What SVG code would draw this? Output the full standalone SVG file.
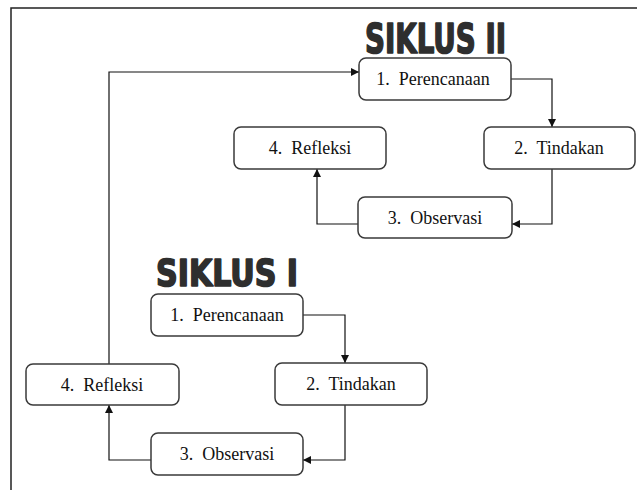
<svg xmlns="http://www.w3.org/2000/svg" width="637" height="490" viewBox="0 0 637 490">
<style>
.box{fill:#fff;stroke:#3a3a3a;stroke-width:1.5}
.lbl{font-size:18px;fill:#111;text-anchor:middle;white-space:pre}
.title{font-weight:900;fill:#2e2e2e;stroke:#2e2e2e;stroke-width:1.6;stroke-linejoin:round}
.con{fill:none;stroke:#111;stroke-width:1.2}
.frame{fill:none;stroke:#222;stroke-width:1.5}
</style>
<defs>
<marker id="ah" viewBox="0 0 10 10" refX="10" refY="5" markerWidth="8" markerHeight="8" markerUnits="userSpaceOnUse" orient="auto">
<path d="M0,0 L10,5 L0,10 z" fill="#111"/>
</marker>
</defs>
<rect width="637" height="490" fill="#fff"/>
<path class="frame" d="M11,490 L11,8 L637,8"/>
<g font-family="Liberation Sans Narrow, DejaVu Sans Condensed, Liberation Sans, sans-serif">
<text class="title" x="365" y="53" font-size="41" textLength="141" lengthAdjust="spacingAndGlyphs">SIKLUS II</text>
<text class="title" x="156" y="286" font-size="37" textLength="142" lengthAdjust="spacingAndGlyphs">SIKLUS I</text>
</g>
<g id="connectors">
<path class="con" d="M511,79 L552,79 L552,127" marker-end="url(#ah)"/>
<path class="con" d="M552,169 L552,224 L512,224" marker-end="url(#ah)"/>
<path class="con" d="M358,224 L317,224 L317,169" marker-end="url(#ah)"/>
<path class="con" d="M303,315 L345,315 L345,363" marker-end="url(#ah)"/>
<path class="con" d="M345,405 L345,460 L303,460" marker-end="url(#ah)"/>
<path class="con" d="M151,460 L109,460 L109,405" marker-end="url(#ah)"/>
<path class="con" d="M109,364 L109,72 L359,72" marker-end="url(#ah)"/>
</g>
<g id="nodes" font-family="Liberation Serif">
<g id="s2-perencanaan"><rect class="box" x="359" y="58" width="152" height="42" rx="7"/><text class="lbl" x="433" y="85">1.  Perencanaan</text></g>
<g id="s2-tindakan"><rect class="box" x="484" y="127" width="151" height="42" rx="7"/><text class="lbl" x="559" y="154">2.  Tindakan</text></g>
<g id="s2-refleksi"><rect class="box" x="234" y="127" width="152" height="42" rx="7"/><text class="lbl" x="310" y="154">4.  Refleksi</text></g>
<g id="s2-observasi"><rect class="box" x="358" y="197" width="154" height="41" rx="7"/><text class="lbl" x="435" y="224">3.  Observasi</text></g>
<g id="s1-perencanaan"><rect class="box" x="151" y="294" width="152" height="42" rx="7"/><text class="lbl" x="227" y="321">1.  Perencanaan</text></g>
<g id="s1-tindakan"><rect class="box" x="275" y="363" width="152" height="42" rx="7"/><text class="lbl" x="351" y="390">2.  Tindakan</text></g>
<g id="s1-refleksi"><rect class="box" x="26" y="364" width="153" height="41" rx="7"/><text class="lbl" x="102" y="391">4.  Refleksi</text></g>
<g id="s1-observasi"><rect class="box" x="151" y="433" width="152" height="42" rx="7"/><text class="lbl" x="227" y="460">3.  Observasi</text></g>
</g>
</svg>
